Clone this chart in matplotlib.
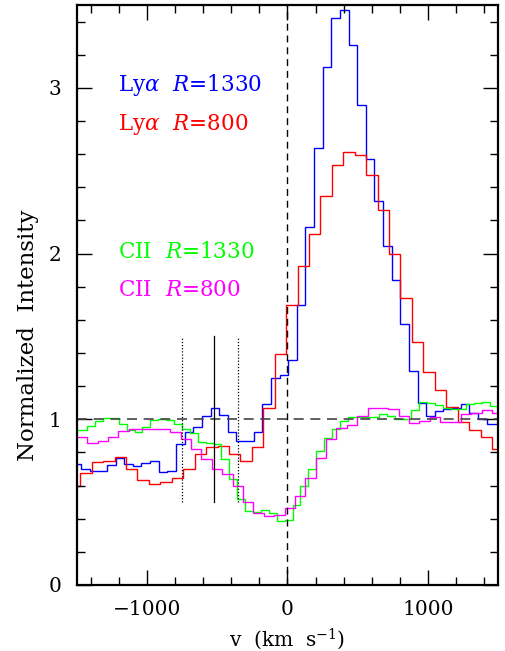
import matplotlib
matplotlib.use("Agg")
import matplotlib.pyplot as plt
import numpy as np

########## Data ##########
# Ly-alpha, R=1330 : bins of 61.5 km/s starting at -1532.5
lya_1330_start, lya_1330_width = -1532.5, 61.5
lya_1330 = [0.73, 0.70, 0.69, 0.687, 0.727, 0.766, 0.73, 0.72, 0.737, 0.747,
            0.683, 0.69, 0.853, 0.923, 0.953, 1.02, 1.068, 1.026, 0.923, 0.868,
            0.868, 0.925, 1.095, 1.247, 1.268, 1.357, 1.687, 2.158, 2.636, 3.125,
            3.424, 3.47, 3.256, 2.895, 2.572, 2.317, 2.045, 1.842, 1.576, 1.293,
            1.10, 1.02, 1.047, 1.065, 1.07, 1.095, 1.04, 1.0, 0.974, 0.974]

# Ly-alpha, R=800 : bins of 81.5 km/s starting at -1558
lya_800_start, lya_800_width = -1558.0, 81.5
lya_800 = [0.60, 0.673, 0.744, 0.75, 0.77, 0.70, 0.636, 0.61, 0.62, 0.646,
           0.697, 0.79, 0.832, 0.838, 0.788, 0.747, 0.834, 1.07, 1.394, 1.687,
           1.923, 2.117, 2.347, 2.535, 2.61, 2.596, 2.477, 2.26, 1.996, 1.733,
           1.469, 1.283, 1.176, 1.075, 0.984, 0.935, 0.895, 0.818]

# CII, R=1330 : bins of 56.3 km/s starting at -1540.1
cii_1330_start, cii_1330_width = -1540.1, 56.3
cii_1330 = [0.933, 0.933, 0.96, 0.99, 1.01, 1.006, 0.974, 0.935, 0.925, 0.953,
            0.994, 1.004, 0.996, 0.97, 0.943, 0.915, 0.862, 0.855, 0.848, 0.758,
            0.64, 0.518, 0.444, 0.44, 0.45, 0.434, 0.384, 0.394, 0.485, 0.60,
            0.70, 0.808, 0.885, 0.943, 0.99, 1.016, 1.016, 1.016, 1.016, 1.034,
            1.02, 1.004, 1.004, 1.055, 1.105, 1.10, 1.085, 1.07, 1.065, 1.065,
            1.09, 1.097, 1.107, 1.08, 1.05]

# CII, R=800 : bins of 74 km/s starting at -1575
cii_800_start, cii_800_width = -1575.0, 74.0
cii_800 = [0.895, 0.895, 0.855, 0.869, 0.895, 0.929, 0.939, 0.943, 0.943, 0.943,
           0.925, 0.883, 0.818, 0.758, 0.70, 0.667, 0.596, 0.499, 0.434, 0.418,
           0.424, 0.465, 0.535, 0.646, 0.768, 0.883, 0.95, 0.964, 1.02, 1.067,
           1.067, 1.06, 1.02, 0.98, 0.99, 1.016, 0.986, 0.985, 1.03, 1.04,
           1.055, 1.04]

# vertical markers (km/s)
marker_solid = -525
marker_dotted = [-755, -350]
##########################


def bin_edges(start, width, values):
    return start + width * np.arange(len(values) + 1)


plt.rcParams['font.family'] = ['DejaVu Serif']
plt.rcParams['mathtext.fontset'] = 'dejavuserif'

fig = plt.figure(figsize=(5.05, 6.51), dpi=100)
ax = fig.add_axes([0.1525, 0.1014, 0.8335, 0.8909])

series = [
    (lya_1330_start, lya_1330_width, lya_1330, '#0000ff'),
    (lya_800_start, lya_800_width, lya_800, '#ff0000'),
    (cii_1330_start, cii_1330_width, cii_1330, '#00ff00'),
    (cii_800_start, cii_800_width, cii_800, '#ff00ff'),
]
for start, width, vals, col in series:
    ax.stairs(vals, bin_edges(start, width, vals), baseline=None,
              color=col, lw=1.0)

# reference lines
ax.axhline(1.0, color='#444444', lw=1.2, ls=(0, (6, 4)))
ax.axvline(0.0, color='black', lw=1.0, ls=(0, (5, 3.5)))
ax.plot([marker_solid, marker_solid], [0.5, 1.5], color='black', lw=0.9)
for xm in marker_dotted:
    ax.plot([xm, xm], [0.5, 1.49], color='black', lw=0.9, ls=(0, (1, 1.5)))

# labels
lab_kw = dict(fontsize=15.5, va='center')
ax.text(-1205, 3.02, r'Ly$\alpha$  $R$=1330', color='#0000ff', **lab_kw)
ax.text(-1205, 2.78, r'Ly$\alpha$  $R$=800', color='#ff0000', **lab_kw)
ax.text(-1205, 2.01, r'CII  $R$=1330', color='#00ff00', **lab_kw)
ax.text(-1205, 1.78, r'CII  $R$=800', color='#ff00ff', **lab_kw)

ax.set_xlim(-1500, 1500)
ax.set_ylim(0, 3.5)
ax.set_xticks([-1000, 0, 1000])
ax.set_xticks(np.arange(-1400, 1500, 200), minor=True)
ax.set_yticks([0, 1, 2, 3])
ax.set_yticks(np.arange(0, 3.5, 0.2), minor=True)
ax.tick_params(which='both', direction='in', top=True, right=True, width=1.0)
ax.tick_params(which='major', length=11, labelsize=14.5, pad=11)
ax.tick_params(which='minor', length=5.5)
for sp in ax.spines.values():
    sp.set_linewidth(1.6)

ax.set_xlabel(r'v  (km  s$^{-1}$)', fontsize=14.5)
ax.xaxis.set_label_coords(0.5, -0.072)
ax.set_ylabel('Normalized  Intensity', fontsize=16.5)
ax.yaxis.set_label_coords(-0.09, 0.43)

fig.savefig('out.png', dpi=100)
